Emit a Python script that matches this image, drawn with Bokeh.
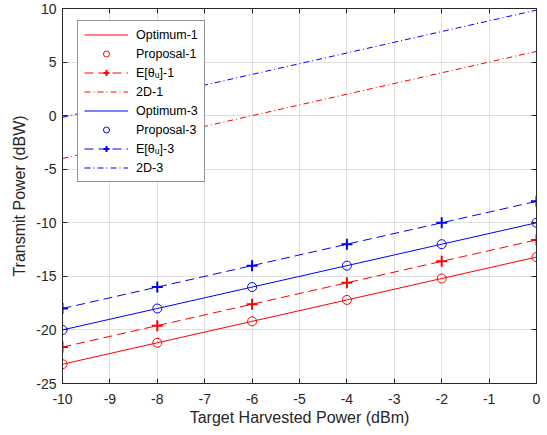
from bokeh.plotting import figure
from bokeh.models import Legend, LegendItem, LinearAxis, FixedTicker, Range1d
from bokeh.embed import file_html
from bokeh.resources import INLINE

# ---- data ----
x_vals = [-10, -8, -6, -4, -2, 0]
optimum_1 = [-23.2, -21.2, -19.2, -17.2, -15.2, -13.2]
proposal_1 = [-23.2, -21.2, -19.2, -17.2, -15.2, -13.2]
e_theta_1 = [-21.6, -19.6, -17.6, -15.6, -13.6, -11.6]
twod_1 = [-4.0, -2.0, 0.0, 2.0, 4.0, 6.0]
optimum_3 = [-20.0, -18.0, -16.0, -14.0, -12.0, -10.0]
proposal_3 = [-20.0, -18.0, -16.0, -14.0, -12.0, -10.0]
e_theta_3 = [-18.0, -16.0, -14.0, -12.0, -10.0, -8.0]
twod_3 = [-0.15, 1.85, 3.85, 5.85, 7.85, 9.85]

x_ticks = [-10, -9, -8, -7, -6, -5, -4, -3, -2, -1, 0]
x_tick_labels = ["-10", "-9", "-8", "-7", "-6", "-5", "-4", "-3", "-2", "-1", "0"]
y_ticks = [-25, -20, -15, -10, -5, 0, 5, 10]
y_tick_labels = ["-25", "-20", "-15", "-10", "-5", "0", "5", "10"]

labels = ["Optimum-1", "Proposal-1", "E[θᵤ]-1", "2D-1",
          "Optimum-3", "Proposal-3", "E[θᵤ]-3", "2D-3"]

RED = "#ff0000"
BLUE = "#0000ff"
AX = "#262626"
FONT = "Liberation Sans"

p = figure(width=547, height=435, output_backend="svg", toolbar_location=None,
           x_range=Range1d(-10, 0), y_range=Range1d(-25, 10),
           min_border_left=62, min_border_right=11, min_border_top=8,
           min_border_bottom=52)
p.background_fill_color = "white"
p.border_fill_color = "white"
p.outline_line_color = AX
p.outline_line_width = 1

def style_axis(ax, ticks, tick_labels, show_labels):
    ax.ticker = FixedTicker(ticks=ticks)
    ax.axis_line_color = AX
    ax.major_tick_line_color = AX
    ax.major_tick_in = 5
    ax.major_tick_out = 0
    ax.minor_tick_line_color = None
    ax.major_label_text_font = FONT
    ax.axis_label_text_font = FONT
    ax.axis_label_text_font_style = "normal"
    ax.axis_label_text_color = AX
    if show_labels:
        ax.major_label_overrides = {t: l for t, l in zip(ticks, tick_labels)}
        ax.major_label_text_color = AX
        ax.major_label_text_font_size = "14px"
        ax.axis_label_text_font_size = "16px"
    else:
        ax.major_label_text_color = None
        ax.major_label_text_font_size = "0px"
        ax.major_label_standoff = 0

style_axis(p.xaxis[0], x_ticks, x_tick_labels, True)
style_axis(p.yaxis[0], y_ticks, y_tick_labels, True)
p.xaxis[0].axis_label = "Target Harvested Power (dBm)"
p.yaxis[0].axis_label = "Transmit Power (dBW)"
p.xaxis[0].major_label_standoff = 10
p.xaxis[0].axis_label_standoff = 2
p.yaxis[0].major_label_standoff = 6
p.yaxis[0].axis_label_standoff = 5

top_ax = LinearAxis()
right_ax = LinearAxis()
style_axis(top_ax, x_ticks, x_tick_labels, False)
style_axis(right_ax, y_ticks, y_tick_labels, False)
p.add_layout(top_ax, "above")
p.add_layout(right_ax, "right")

p.xgrid.ticker = FixedTicker(ticks=x_ticks)
p.ygrid.ticker = FixedTicker(ticks=y_ticks)
p.grid.grid_line_color = "#e0e0e0"
p.grid.grid_line_width = 1

# ---- glyphs ----
def ln(ys, color, dash="solid"):
    return p.line(x_vals, ys, line_color=color, line_alpha=1.0,
                  line_width=1, line_dash=dash)

r_opt1 = ln(optimum_1, RED)
r_pro1 = p.scatter(x_vals, proposal_1, marker="circle", size=9, fill_color=None,
                   line_color=RED, line_width=1)
r_e1l = ln(e_theta_1, RED, "9 5")
r_e1m = p.scatter(x_vals, e_theta_1, marker="cross", size=11, line_color=RED, line_width=2)
r_2d1 = ln(twod_1, RED, "6 3 1 3")

r_opt3 = ln(optimum_3, BLUE)
r_pro3 = p.scatter(x_vals, proposal_3, marker="circle", size=9, fill_color=None,
                   line_color=BLUE, line_width=1)
r_e3l = ln(e_theta_3, BLUE, "9 5")
r_e3m = p.scatter(x_vals, e_theta_3, marker="cross", size=11, line_color=BLUE, line_width=2)
r_2d3 = ln(twod_3, BLUE, "6 3 1 3")

items = [
    LegendItem(label=labels[0], renderers=[r_opt1]),
    LegendItem(label=labels[1], renderers=[r_pro1]),
    LegendItem(label=labels[2], renderers=[r_e1l, r_e1m]),
    LegendItem(label=labels[3], renderers=[r_2d1]),
    LegendItem(label=labels[4], renderers=[r_opt3]),
    LegendItem(label=labels[5], renderers=[r_pro3]),
    LegendItem(label=labels[6], renderers=[r_e3l, r_e3m]),
    LegendItem(label=labels[7], renderers=[r_2d3]),
]
legend = Legend(items=items, location=(15, 201), margin=0, padding=6,
                spacing=4, glyph_width=44, glyph_height=15, label_height=15,
                label_standoff=8, label_text_font=FONT, label_text_font_size="12.5px",
                label_text_color="#000000", border_line_color=AX,
                border_line_width=1, background_fill_color="white",
                background_fill_alpha=1.0)
p.add_layout(legend, "center")

open("out.html", "w").write(file_html(p, INLINE))
